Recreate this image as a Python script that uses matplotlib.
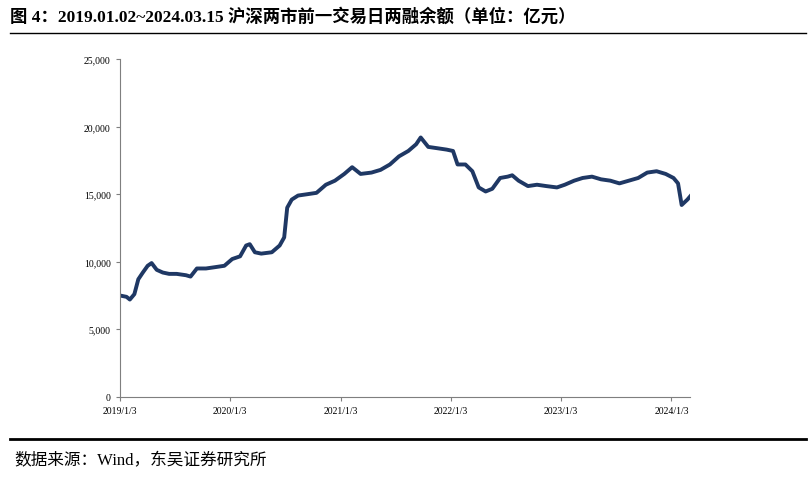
import matplotlib
matplotlib.use("Agg")
import matplotlib.pyplot as plt
import matplotlib.dates as mdates
import pandas as pd
from matplotlib.ticker import FuncFormatter

dates = ["2019-01-03","2019-01-25","2019-02-05","2019-02-20","2019-03-05","2019-03-20","2019-04-05","2019-04-18","2019-05-05","2019-05-25",
"2019-06-15","2019-07-10","2019-08-10","2019-08-25","2019-09-15","2019-10-15","2019-11-15","2019-12-15",
"2020-01-10","2020-02-05","2020-02-25","2020-03-08","2020-03-25","2020-04-15","2020-05-20","2020-06-15","2020-06-30",
"2020-07-10","2020-07-25","2020-08-15","2020-09-15","2020-10-15","2020-11-15","2020-12-15",
"2021-01-15","2021-02-10","2021-03-10","2021-04-15","2021-05-15","2021-06-15","2021-07-15","2021-08-15","2021-09-10","2021-09-25","2021-10-20","2021-11-20","2021-12-20",
"2022-01-10","2022-01-25","2022-02-20","2022-03-15","2022-04-05","2022-04-28","2022-05-20","2022-06-15","2022-07-10","2022-07-25","2022-08-15","2022-09-15","2022-10-15","2022-11-15","2022-12-20",
"2023-01-15","2023-02-15","2023-03-15","2023-04-15","2023-05-15","2023-06-15","2023-07-15","2023-08-15","2023-09-15","2023-10-15","2023-11-15","2023-12-15",
"2024-01-10","2024-01-25","2024-02-06","2024-02-25","2024-03-15"]
values = [7500,7400,7200,7600,8700,9200,9700,9900,9400,9200,
9100,9100,9000,8900,9500,9500,9600,9700,
10200,10400,11200,11300,10700,10600,10700,11200,11800,
14000,14600,14900,15000,15100,15700,16000,
16500,17000,16500,16600,16800,17200,17800,18200,18700,19200,18500,18400,18300,
18200,17200,17200,16700,15500,15200,15400,16200,16300,16400,16000,15600,15700,15600,15500,
15700,16000,16200,16300,16100,16000,15800,16000,16200,16600,16700,16500,
16200,15800,14200,14600,15100]

plt.rcParams['font.family'] = ['Liberation Serif', 'Noto Sans CJK SC']
fig = plt.figure(figsize=(8.1, 4.81), dpi=100)
ax = fig.add_axes([0.148, 0.173, 0.704, 0.702])
ax.plot(pd.to_datetime(dates), values, color="#1f3864", lw=2.8)
ax.set_ylim(0, 25000)
ax.set_yticks(range(0, 25001, 5000))
ax.yaxis.set_major_formatter(FuncFormatter(lambda v, p: f"{int(v):,}"))
ticks = pd.to_datetime(["2019-01-03","2020-01-03","2021-01-03","2022-01-03","2023-01-03","2024-01-03"])
ax.set_xticks(ticks)
ax.set_xticklabels(["2019/1/3","2020/1/3","2021/1/3","2022/1/3","2023/1/3","2024/1/3"])
ax.set_xlim(pd.Timestamp("2019-01-03"), pd.Timestamp("2024-03-05"))
for s in ["top", "right"]:
    ax.spines[s].set_visible(False)
for s in ["left", "bottom"]:
    ax.spines[s].set_color("#7f7f7f")
ax.tick_params(labelsize=7, length=3, color="#7f7f7f")
fig.text(0.012, 0.965, "图 4：2019.01.02~2024.03.15 沪深两市前一交易日两融余额（单位：亿元）",
         fontsize=12.5, fontweight="bold", va="center", ha="left")
fig.add_artist(plt.Line2D([0.012, 0.995], [0.93, 0.93], color="black", lw=1))
fig.add_artist(plt.Line2D([0.012, 0.995], [0.085, 0.085], color="black", lw=2))
fig.text(0.018, 0.042, "数据来源：Wind，东吴证券研究所", fontsize=12, va="center", ha="left")
fig.savefig("out.png", dpi=100)
